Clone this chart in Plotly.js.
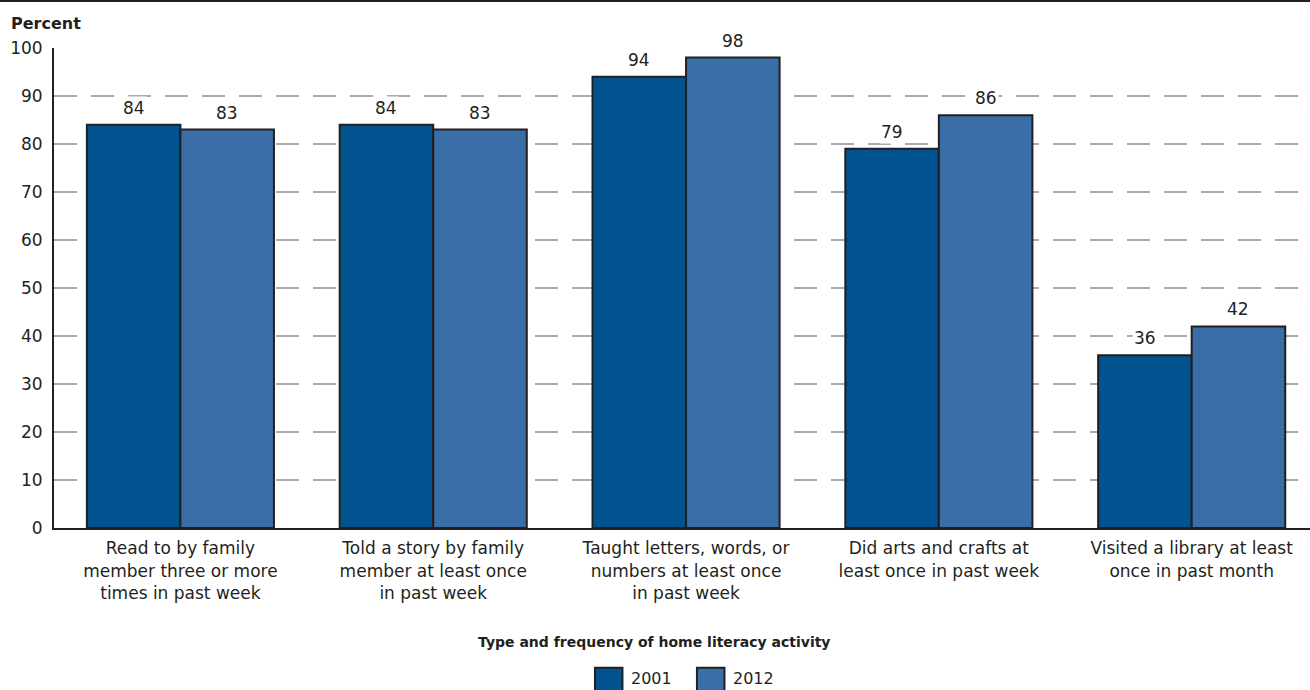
<!DOCTYPE html>
<html>
<head>
<meta charset="utf-8">
<script src="https://cdn.plot.ly/plotly-3.0.1.min.js"></script>
<style>
  html, body { margin: 0; padding: 0; background: #ffffff; }
  #chart { width: 1310px; height: 690px; }
</style>
</head>
<body>
<div id="chart"></div>
<script>
// Home literacy activities, percent of children, 2001 vs 2012
const categories = [
  "Read to by family<br>member three or more<br>times in past week",
  "Told a story by family<br>member at least once<br>in past week",
  "Taught letters, words, or<br>numbers at least once<br>in past week",
  "Did arts and crafts at<br>least once in past week",
  "Visited a library at least<br>once in past month"
];
const years = ["2001", "2012"];
const values2001 = [84, 84, 94, 79, 36];
const values2012 = [83, 83, 98, 86, 42];
const yTicks = [0, 10, 20, 30, 40, 50, 60, 70, 80, 90, 100];

const colors = ["#00538f", "#3a6ea6"];
const ink = "#231f20";
const font = "DejaVu Sans, sans-serif";

const series = [values2001, values2012];

const traces = series.map((vals, i) => ({
  type: "bar",
  name: years[i],
  x: categories,
  y: vals,
  marker: { color: colors[i], line: { color: ink, width: 2 } },
  hoverinfo: "skip",
  showlegend: false
}));

// value labels sit above each bar on a white patch
const barOffset = 0.185;
const annotations = [];
series.forEach((vals, i) => {
  vals.forEach((v, j) => {
    annotations.push({
      x: j + (i === 0 ? -barOffset : barOffset),
      y: v,
      xref: "x", yref: "y",
      text: String(v),
      showarrow: false,
      yanchor: "middle",
      yshift: 17,
      bgcolor: "#ffffff",
      borderpad: 1,
      font: { family: font, size: 17, color: ink }
    });
  });
});

annotations.push({
  x: -0.036, y: 1.0515, xref: "paper", yref: "paper",
  xanchor: "left", yanchor: "middle",
  text: "<b>Percent</b>", showarrow: false,
  font: { family: font, size: 16, color: ink }
});
annotations.push({
  x: 0.4785, y: -0.238, xref: "paper", yref: "paper",
  xanchor: "center", yanchor: "middle",
  text: "<b>Type and frequency of home literacy activity</b>", showarrow: false,
  font: { family: font, size: 14, color: ink }
});

// legend: swatch + label per year
const shapes = [];
const legendX = [0.4307, 0.5119];
const legendW = 0.0219;
years.forEach((yr, i) => {
  shapes.push({
    type: "rect", xref: "paper", yref: "paper",
    x0: legendX[i], x1: legendX[i] + legendW, y0: -0.342, y1: -0.291,
    fillcolor: colors[i], line: { color: ink, width: 2 }
  });
  annotations.push({
    x: legendX[i] + legendW + 0.005, y: -0.3125, xref: "paper", yref: "paper",
    xanchor: "left", yanchor: "middle",
    text: yr, showarrow: false,
    font: { family: font, size: 16, color: ink }
  });
});

// rule across the top of the figure
shapes.push({
  type: "line", xref: "paper", yref: "paper",
  x0: -0.05, x1: 1.01, y0: 1.098, y1: 1.098,
  line: { color: ink, width: 2 }
});

const layout = {
  width: 1310,
  height: 690,
  margin: { l: 54, r: 0, t: 48, b: 162, pad: 0 },
  paper_bgcolor: "#ffffff",
  plot_bgcolor: "#ffffff",
  barmode: "group",
  bargap: 0.26,
  bargroupgap: 0,
  showlegend: false,
  font: { family: font, color: ink },
  xaxis: {
    type: "category",
    range: [-0.5, 4.468],
    showgrid: false,
    showline: true,
    linecolor: ink,
    linewidth: 2,
    ticks: "",
    ticklabelstandoff: 4,
    tickfont: { family: font, size: 17, color: ink },
    fixedrange: true
  },
  yaxis: {
    range: [0, 100],
    tickvals: yTicks,
    ticktext: yTicks.map(String),
    showgrid: true,
    gridcolor: "#a9abae",
    gridwidth: 2,
    griddash: "23px,14px",
    zeroline: false,
    showline: true,
    linecolor: ink,
    linewidth: 2,
    ticks: "",
    ticklabelstandoff: 6,
    tickfont: { family: font, size: 17, color: ink },
    fixedrange: true
  },
  annotations: annotations,
  shapes: shapes
};

Plotly.newPlot("chart", traces, layout, { displayModeBar: false, staticPlot: true });
</script>
</body>
</html>
